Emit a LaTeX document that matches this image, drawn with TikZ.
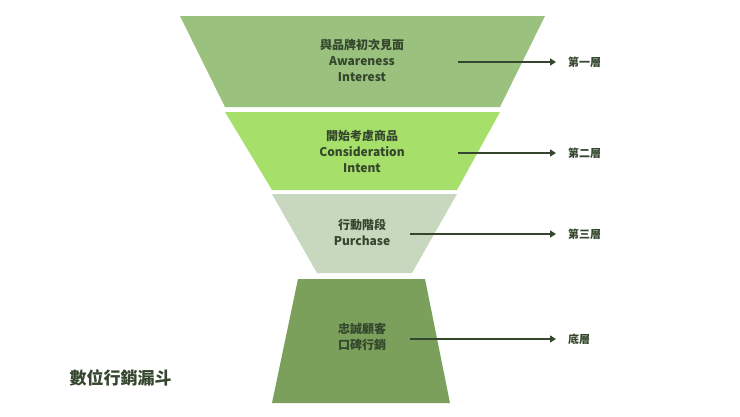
\documentclass[tikz,border=0pt]{standalone}
\usepackage{fontspec}
\setmainfont{Noto Sans CJK TC}
\usetikzlibrary{arrows.meta}
\definecolor{layerone}{RGB}{155,193,126}
\definecolor{layertwo}{RGB}{166,224,106}
\definecolor{layerthree}{RGB}{200,216,190}
\definecolor{layerfour}{RGB}{122,160,91}
\definecolor{darktext}{RGB}{52,70,45}
\tikzset{
  txt/.style={text=darktext,font=\bfseries\fontsize{12}{16}\selectfont,align=center},
  lvl/.style={text=darktext,font=\bfseries\fontsize{11}{13}\selectfont,anchor=west,inner sep=1pt},
  pointer/.style={darktext,line width=1.3pt,-{Triangle[length=6pt,width=7pt]}}
}
\begin{document}
\begin{tikzpicture}[x=1pt,y=-1pt]
    	% border
    	\useasboundingbox (0,0) rectangle (740,416);
    	% funnel layers
    	\fill[layerone]   (180,16)  -- (545,16)  -- (500,107) -- (225,107) -- cycle;
    	\fill[layertwo]   (225,112) -- (500,112) -- (457,190) -- (272,190) -- cycle;
    	\fill[layerthree] (272,194) -- (457,194) -- (412,273) -- (317,273) -- cycle;
    	\fill[layerfour]  (298,279) -- (425,279) -- (450,403) -- (272,403) -- cycle;
    	% layer texts
    	\node[txt] (aware)    at (362,60)  {與品牌初次見面\\Awareness\\Interest};
    	\node[txt] (consider) at (362,151) {開始考慮商品\\Consideration\\Intent};
    	\node[txt] (purchase) at (362,232) {行動階段\\Purchase};
    	\node[txt] (loyal)    at (362,337) {忠誠顧客\\口碑行銷};
    	% level labels
    	\node[lvl] (first)  at (567,62)  {第一層};
    	\node[lvl] (second) at (567,153) {第二層};
    	\node[lvl] (third)  at (567,234) {第三層};
    	\node[lvl] (bottom) at (567,339) {底層};
    	% arrow starts
    	\coordinate (s1) at (458,62);
    	\coordinate (s2) at (458,153);
    	\coordinate (s3) at (410,234);
    	\coordinate (s4) at (410,339);
    	\draw[pointer] (s1) -- (first.west -| 556,0);
    	\draw[pointer] (s2) -- (second.west -| 556,0);
    	\draw[pointer] (s3) -- (third.west -| 556,0);
    	\draw[pointer] (s4) -- (bottom.west -| 556,0);
    	% title
    	\node[text=darktext,font=\bfseries\fontsize{17}{20}\selectfont,anchor=west] (title) at (66,378) {數位行銷漏斗};
\end{tikzpicture}
\end{document}
